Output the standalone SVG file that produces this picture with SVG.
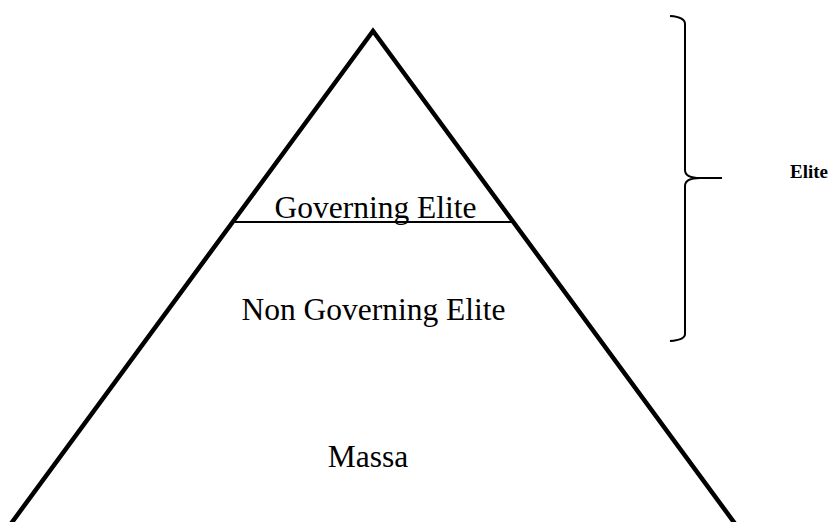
<svg xmlns="http://www.w3.org/2000/svg" width="830" height="522" viewBox="0 0 830 522">
<style>
.t{font-family:"Liberation Serif","Times New Roman",serif;font-size:31.5px;fill:#000;text-anchor:middle}
.b{font-family:"Liberation Serif","Times New Roman",serif;font-size:19px;font-weight:bold;fill:#000;text-anchor:end}
.ln{fill:none;stroke:#000}
</style>
<rect width="830" height="522" fill="#fff"/>
<g id="pyramid">
<polyline class="ln" points="10,525 373,31 736,525" stroke-width="4.5" stroke-linejoin="miter"/>
<line class="ln" x1="235" y1="222" x2="514" y2="222" stroke-width="2"/>
</g>
<g id="governing-elite"><text class="t" x="375.5" y="218">Governing Elite</text></g>
<g id="non-governing-elite"><text class="t" x="373.5" y="320">Non Governing Elite</text></g>
<g id="massa"><text class="t" x="368" y="467">Massa</text></g>
<g id="connectors">
<path class="ln" stroke-width="2" d="M670,16 Q685,17 685,24 L685,170 Q685,178 700,178 L722,178 L700,178 Q685,178 685,186 L685,334 Q685,340 670,341"/>
</g>
<g id="elite-label"><text class="b" x="828" y="178">Elite</text></g>
</svg>
